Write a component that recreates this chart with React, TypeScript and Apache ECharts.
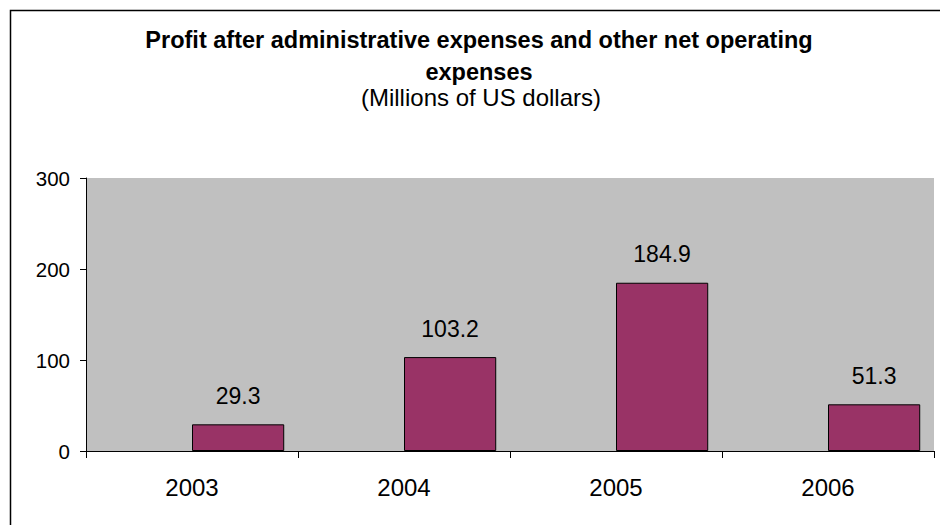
import React, { useEffect, useRef } from "react";
import * as echarts from "echarts";

const categories = ["2003", "2004", "2005", "2006"];
const profitValues = [29.3, 103.2, 184.9, 51.3];
const emptyValues: (number | null)[] = [null, null, null, null];
const yTicks = { min: 0, max: 300, interval: 100 };

const titleLine1 = "Profit after administrative expenses and other net operating";
const titleLine2 = "expenses";
const subtitle = "(Millions of US dollars)";

const FONT = "'Liberation Sans', Arial, sans-serif";

export default function App() {
  const ref = useRef<HTMLDivElement>(null);
  useEffect(() => {
    if (!ref.current) return;
    const chart = echarts.init(ref.current, undefined, { renderer: "svg" });
    chart.setOption({
      animation: false,
      backgroundColor: "#ffffff",
      textStyle: { fontFamily: FONT },
      title: [
        {
          text: titleLine1,
          left: 479,
          textAlign: "center",
          top: 26,
          padding: 0,
          textStyle: { fontSize: 23.5, fontWeight: "bold", color: "#000", fontFamily: FONT, lineHeight: 28 },
        },
        {
          text: titleLine2,
          left: 479,
          textAlign: "center",
          top: 58,
          padding: 0,
          textStyle: { fontSize: 23.5, fontWeight: "bold", color: "#000", fontFamily: FONT, lineHeight: 28 },
        },
        {
          text: subtitle,
          left: 481,
          textAlign: "center",
          top: 83,
          padding: 0,
          textStyle: { fontSize: 24, fontWeight: "normal", color: "#000", fontFamily: FONT, lineHeight: 28 },
        },
      ],
      graphic: [
        {
          type: "rect",
          shape: { x: 10.5, y: 10.5, width: 940, height: 525 },
          style: { fill: "none", stroke: "#000", lineWidth: 1.5 },
          silent: true,
        },
      ],
      grid: {
        left: 86,
        right: 6,
        top: 178,
        bottom: 74,
        show: true,
        backgroundColor: "#C0C0C0",
        borderWidth: 0,
      },
      xAxis: {
        type: "category",
        data: categories,
        axisLine: { show: true, lineStyle: { color: "#000", width: 1 } },
        axisTick: { show: true, length: 7, lineStyle: { color: "#000" } },
        axisLabel: { fontSize: 24, color: "#000", margin: 24, fontFamily: FONT },
        splitLine: { show: false },
      },
      yAxis: {
        type: "value",
        min: yTicks.min,
        max: yTicks.max,
        interval: yTicks.interval,
        axisLine: { show: true, lineStyle: { color: "#000", width: 1 } },
        axisTick: { show: true, length: 6, lineStyle: { color: "#000" } },
        axisLabel: { fontSize: 20.5, color: "#000", margin: 16, fontFamily: FONT },
        splitLine: { show: false },
      },
      series: [
        {
          type: "bar",
          data: emptyValues,
          barGap: "0%",
          barCategoryGap: "13%",
          itemStyle: { color: "#993366" },
        },
        {
          type: "bar",
          data: profitValues,
          barGap: "0%",
          barCategoryGap: "13%",
          itemStyle: { color: "#993366", borderColor: "#000", borderWidth: 1 },
          label: {
            show: true,
            position: "top",
            distance: 17,
            fontSize: 23,
            color: "#000",
            fontFamily: FONT,
          },
        },
      ],
    });
    return () => chart.dispose();
  }, []);
  return (
    <div
      ref={ref}
      style={{ position: "absolute", left: 0, top: 0, width: 940, height: 525 }}
    />
  );
}
